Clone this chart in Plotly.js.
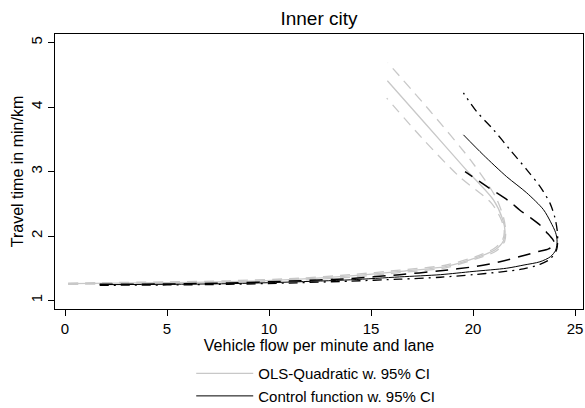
<!DOCTYPE html>
<html>
<head>
<meta charset="utf-8">
<script src="https://cdn.plot.ly/plotly-3.0.1.min.js"></script>
<style>
  html, body { margin: 0; padding: 0; background: #fff; }
  #chart { width: 585px; height: 408px; }
</style>
</head>
<body>
<div id="chart"></div>
<script>
// Speed-flow curves, inner city: vehicle flow (x) against travel time (y)

// OLS-Quadratic fit and its 95% confidence band
const olsFlow   = [0.15, 5, 8, 11.5, 14, 16.4, 18.7, 20.3, 21.1, 21.5, 21.57, 21.45, 21.0, 19.6, 17.7, 15.8];
const olsTime   = [1.26, 1.275, 1.29, 1.33, 1.38, 1.45, 1.53, 1.68, 1.79, 1.93, 2.07, 2.26, 2.56, 3.05, 3.73, 4.41];
const olsHiFlow = [0.15, 5, 8, 11.5, 14, 16.4, 18.7, 20.3, 21.15, 21.55, 21.6, 21.5, 21.1, 19.9, 18.0, 15.82];
const olsHiTime = [1.25, 1.262, 1.277, 1.315, 1.36, 1.43, 1.51, 1.66, 1.77, 1.92, 2.07, 2.28, 2.61, 3.17, 3.90, 4.69];
const olsLoFlow = [0.15, 5, 8, 11.5, 14, 16.4, 18.7, 20.3, 21.05, 21.45, 21.53, 21.4, 20.9, 19.3, 17.5, 15.77];
const olsLoTime = [1.27, 1.288, 1.305, 1.345, 1.40, 1.47, 1.55, 1.70, 1.81, 1.94, 2.07, 2.24, 2.51, 2.93, 3.52, 4.14];

// Control function fit and its 95% confidence band
const cfFlow   = [1.7, 5, 8, 11, 14, 16.4, 18.4, 20.0, 21.65, 22.5, 23.28, 23.8, 24.05, 24.12, 24.05, 23.8, 23.45, 22.63, 21.65, 20.5, 19.53];
const cfTime   = [1.245, 1.25, 1.26, 1.285, 1.32, 1.365, 1.40, 1.45, 1.50, 1.55, 1.60, 1.68, 1.78, 1.92, 2.05, 2.22, 2.41, 2.67, 2.92, 3.26, 3.57];
const cfHiFlow = [1.7, 5, 8, 11, 14, 16.4, 18.4, 20.0, 21.3, 22.47, 23.28, 23.77, 24.1, 24.15, 24.12, 24.0, 23.77, 23.28, 22.63, 21.81, 21.0, 20.18, 19.53];
const cfHiTime = [1.235, 1.24, 1.25, 1.27, 1.30, 1.33, 1.36, 1.40, 1.44, 1.49, 1.56, 1.64, 1.79, 1.94, 2.10, 2.30, 2.51, 2.77, 3.03, 3.34, 3.65, 3.93, 4.22];
const cfLoFlow = [1.7, 5, 8, 11, 14, 16.4, 18.4, 20.18, 21.32, 22.63, 23.2, 23.7, 24.0, 23.9, 23.6, 23.28, 22.79, 22.3, 21.81, 20.67, 19.61];
const cfLoTime = [1.25, 1.255, 1.27, 1.30, 1.34, 1.40, 1.46, 1.53, 1.60, 1.71, 1.76, 1.80, 1.88, 1.95, 2.06, 2.17, 2.29, 2.40, 2.53, 2.77, 3.0];

// Axis ticks and labels
const xTicks = [0, 5, 10, 15, 20, 25];
const yTicks = [1, 2, 3, 4, 5];
const seriesNames = ['OLS-Quadratic w. 95% CI', 'Control function w. 95% CI'];

const FONT = 'Arial, "Liberation Sans", sans-serif';
const GRAY = '#c8c8c8';

function curve(x, y, color, width, dash, name, showlegend) {
  return {
    x: x, y: y, type: 'scatter', mode: 'lines',
    line: { color: color, width: width, dash: dash, shape: 'spline', smoothing: 0.8 },
    name: name || '', showlegend: !!showlegend, hoverinfo: 'skip'
  };
}

const traces = [
  curve(olsHiFlow, olsHiTime, GRAY, 1.3, '10px,7px'),
  curve(olsLoFlow, olsLoTime, GRAY, 1.3, '10px,7px'),
  curve(olsFlow, olsTime, GRAY, 1.3, 'solid', seriesNames[0], true),
  curve(cfHiFlow, cfHiTime, '#000', 1.3, '9px,5px,2px,5px'),
  curve(cfLoFlow, cfLoTime, '#000', 1.5, '13px,8px'),
  curve(cfFlow, cfTime, '#000', 1, 'solid', seriesNames[1], true)
];

const layout = {
  width: 585, height: 408,
  paper_bgcolor: '#fff', plot_bgcolor: '#fff',
  margin: { l: 55, r: 2, t: 34, b: 99, autoexpand: false },
  font: { family: FONT, size: 16, color: '#000' },
  title: { text: 'Inner city', font: { family: FONT, size: 19, color: '#000' },
           x: 0.5, xanchor: 'center', xref: 'paper', y: 0.955, yanchor: 'middle' },
  xaxis: {
    range: [-0.49, 25.39], tickvals: xTicks, ticktext: xTicks.map(String),
    showgrid: false, zeroline: false, showline: true, mirror: true,
    linecolor: '#000', linewidth: 1, ticks: 'outside', ticklen: 6, tickcolor: '#000',
    tickfont: { family: FONT, size: 15, color: '#000' },
    title: { text: 'Vehicle flow per minute and lane', standoff: 0,
             font: { family: FONT, size: 16, color: '#000' } }
  },
  yaxis: {
    range: [0.867, 5.135], tickvals: yTicks, ticktext: yTicks.map(String),
    showgrid: false, zeroline: false, showline: true, mirror: true,
    linecolor: '#000', linewidth: 1, ticks: 'outside', ticklen: 6, tickcolor: '#000',
    tickangle: -90,
    tickfont: { family: FONT, size: 15, color: '#000' },
    title: { text: 'Travel time in min/km', standoff: 0,
             font: { family: FONT, size: 16, color: '#000' } }
  },
  legend: {
    x: 0.258, xanchor: 'left', y: -0.175, yanchor: 'top',
    bgcolor: 'rgba(0,0,0,0)', borderwidth: 0,
    itemwidth: 57, tracegroupgap: 0,
    font: { family: FONT, size: 15, color: '#000' }
  },
  showlegend: true
};

Plotly.newPlot('chart', traces, layout, { staticPlot: true, displayModeBar: false });
</script>
</body>
</html>
